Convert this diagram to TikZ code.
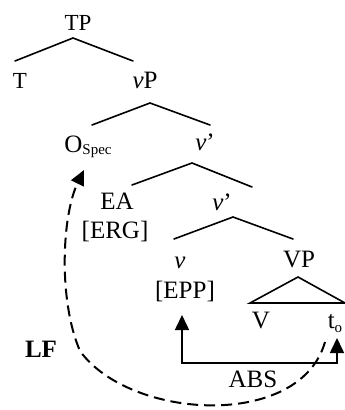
\documentclass[tikz,border=0pt]{standalone}
\usepackage{fontspec}
\setmainfont{Liberation Serif}
\usetikzlibrary{arrows.meta}
\begin{document}
\begin{tikzpicture}[x=1pt,y=-1pt,
  lbl/.style={inner sep=0pt, anchor=base, font=\fontsize{25}{30}\selectfont},
  toplbl/.style={lbl, font=\fontsize{23}{28}\selectfont},
  branch/.style={line width=1.6pt, line cap=round},
  agree/.style={line width=1.6pt, {Triangle[length=15pt,width=14pt]}-{Triangle[length=15pt,width=14pt]}},
  move/.style={line width=2pt, dash pattern=on 11pt off 6pt, -{Triangle[length=15pt,width=14pt]}}
]
\useasboundingbox (0,0) rectangle (345,410);

% labels of the tree
\node[toplbl] (tp) at (78,30) {TP};
\node[toplbl] (t)  at (20,88) {T};
\node[lbl] (vp) at (145,88) {\textit{v}P};
\node[lbl] (ospec) at (88,152) {O\raisebox{-2pt}{\fontsize{15}{18}\selectfont Spec}};
\node[lbl] (vbar1) at (205,150) {\textit{v}’};
\node[lbl] (ea) at (117,209) {EA};
\node[lbl] (erg) at (115,238) {[ERG]};
\node[lbl] (vbar2) at (222,210) {\textit{v}’};
\node[lbl] (v) at (180,268) {\textit{v}};
\node[lbl] (epp) at (185,298) {[EPP]};
\node[lbl] (vpp) at (299,267) {VP};
\node[lbl] (vv) at (261,328) {V};
\node[lbl] (to) at (335,328) {t\raisebox{-4pt}{\fontsize{15}{18}\selectfont o}};
\node[lbl] (abs) at (253,387) {ABS};
\node[lbl, font=\fontsize{25}{30}\selectfont\bfseries] (lf) at (41,357) {LF};

% branches
\draw[branch] ([shift={(-5pt,27pt)}]t.base) -- ([shift={(-5pt,-8pt)}]tp.base) -- ([shift={(-12pt,27pt)}]vp.base);
\draw[branch] ([shift={(4pt,27pt)}]ospec.base) -- ([shift={(5pt,-15pt)}]vp.base) -- ([shift={(5pt,25pt)}]vbar1.base);
\draw[branch] ([shift={(15pt,24pt)}]ea.base) -- ([shift={(-13pt,-13pt)}]vbar1.base) -- ([shift={(30pt,23pt)}]vbar2.base);
\draw[branch] ([shift={(-6pt,29pt)}]v.base) -- ([shift={(11pt,-7pt)}]vbar2.base) -- ([shift={(-6pt,28pt)}]vpp.base);
% VP triangle
\draw[branch, line join=miter] ([shift={(-1pt,-10pt)}]vpp.base) -- ([shift={(-11pt,25pt)}]vv.base) -- ([shift={(10pt,25pt)}]to.base) -- cycle;

% ABS agreement between v and the object trace
\draw[agree] ([shift={(-3pt,-17pt)}]epp.base) |- ([yshift=7pt]abs.north) -| ([shift={(2pt,-10pt)}]to.base);

% LF movement of the object to the specifier
\coordinate (bend) at ([shift={(39pt,6pt)}]lf.base);
\draw[move] ([shift={(-10pt,-14pt)}]to.base) .. controls (300,430) and (130,420) .. (bend)
  .. controls (58,300) and (62,215) .. ([shift={(-4pt,-18pt)}]ospec.base);
\end{tikzpicture}
\end{document}
